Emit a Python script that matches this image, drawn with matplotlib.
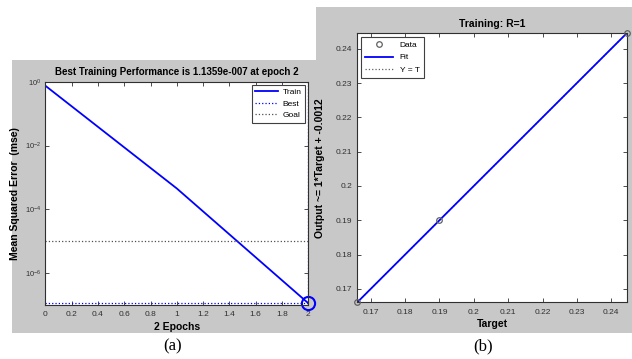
import numpy as np
import matplotlib
matplotlib.use('Agg')
import matplotlib.pyplot as plt
from matplotlib.patches import Rectangle

plt.rcParams['font.family'] = ['Liberation Sans', 'DejaVu Sans']
plt.rcParams['mathtext.default'] = 'regular'

# (a) training performance
epochs = [0, 1, 2]
train_mse = [0.75, 4.5e-4, 1.1359e-7]
best_epoch = 2
best_mse = 1.1359e-7
goal_mse = 1e-5
perf_yticks = [1e0, 1e-2, 1e-4, 1e-6]
perf_ytick_labels = ['$10^{0}$', '$10^{-2}$', '$10^{-4}$', '$10^{-6}$']
perf_xticks = [0, 0.2, 0.4, 0.6, 0.8, 1, 1.2, 1.4, 1.6, 1.8, 2]
perf_xtick_labels = ['0', '0.2', '0.4', '0.6', '0.8', '1', '1.2', '1.4', '1.6', '1.8', '2']

# (b) regression
targets = [0.1661, 0.19, 0.2445]
outputs = [0.1661, 0.19, 0.2445]
reg_ticks = [0.17, 0.18, 0.19, 0.2, 0.21, 0.22, 0.23, 0.24]
reg_tick_labels = ['0.17', '0.18', '0.19', '0.2', '0.21', '0.22', '0.23', '0.24']

W, H = 632, 359
GRAY = '#c8c8c8'
BLUE = '#0000ff'

def fx(px):
    return px / W

def fy(py):
    return 1 - py / H

fig = plt.figure(figsize=(6.32, 3.59), dpi=100)
fig.patch.set_facecolor('white')

# gray matlab figure panels
fig.patches.append(Rectangle((fx(12), fy(333)), fx(318 - 12), (333 - 60) / H,
                             transform=fig.transFigure, facecolor=GRAY, edgecolor='none', zorder=-3))
fig.patches.append(Rectangle((fx(316), fy(333)), fx(632 - 316), (333 - 7) / H,
                             transform=fig.transFigure, facecolor=GRAY, edgecolor='none', zorder=-2))

tick_kw = dict(direction='in', length=3, width=0.6, labelsize=6, colors='#303030')

# ---- (a)
ax1 = fig.add_axes([fx(45.3), fy(305), fx(308.3 - 45.3), (305 - 81.7) / H])
ax1.set_yscale('log')
ax1.plot(epochs, train_mse, color=BLUE, lw=1.3, label='Train')
ax1.axvline(best_epoch, color=BLUE, ls=':', lw=0.9, label='Best')
ax1.axhline(best_mse, color=BLUE, ls=':', lw=0.9)
ax1.axhline(goal_mse, color='#505050', ls=':', lw=0.9, label='Goal')
ax1.plot([best_epoch], [best_mse], 'o', ms=9.5, mfc='none', mec=BLUE, mew=1.5, clip_on=False)
ax1.set_xlim(0, 2)
ax1.set_ylim(1e-7, 1)
ax1.set_xticks(perf_xticks)
ax1.set_xticklabels(perf_xtick_labels)
ax1.set_yticks(perf_yticks)
ax1.set_yticklabels(perf_ytick_labels)
ax1.minorticks_off()
ax1.tick_params(top=True, right=True, **tick_kw)
ax1.tick_params(axis='x', pad=4.5)
ax1.tick_params(axis='y', labelsize=5.5, pad=3)
ax1.set_title('Best Training Performance is 1.1359e-007 at epoch 2', fontsize=7,
              fontweight='bold', pad=4.8)
ax1.set_xlabel('2 Epochs', fontsize=7.5, fontweight='bold', labelpad=2.5)
ax1.set_ylabel('Mean Squared Error  (mse)', fontsize=7.5, fontweight='bold')
ax1.yaxis.set_label_coords((20 - 45.3) / 263, 0.5)
leg1 = ax1.legend(loc='upper right', fontsize=6, fancybox=False, framealpha=1,
                  edgecolor='#404040', handlelength=2.8, handletextpad=0.5, borderpad=0.4,
                  labelspacing=0.45, borderaxespad=0.4)
leg1.get_frame().set_linewidth(0.8)
for s in ax1.spines.values():
    s.set_color('#303030')
    s.set_linewidth(0.8)

# ---- (b)
ax2 = fig.add_axes([fx(357.3), fy(302.3), fx(626.7 - 357.3), (302.3 - 33.3) / H])
slope, intercept = np.polyfit(targets, outputs, 1)
lo, hi = min(targets), max(targets)
xs = np.array([lo, hi])
ax2.plot(targets, outputs, 'o', ms=4, mfc='none', mec='#606060', mew=0.9, label='Data',
         zorder=3, clip_on=False)
ax2.plot(xs, slope * xs + intercept, color=BLUE, lw=1.3, label='Fit', zorder=2)
ax2.plot(xs, xs, color='#606060', ls=':', lw=0.9, label='Y = T', zorder=1)
ax2.set_xlim(lo, hi)
ax2.set_ylim(lo, hi)
ax2.set_xticks(reg_ticks)
ax2.set_xticklabels(reg_tick_labels)
ax2.set_yticks(reg_ticks)
ax2.set_yticklabels(reg_tick_labels)
ax2.tick_params(top=True, right=True, **tick_kw)
ax2.tick_params(axis='x', pad=4.5)
ax2.set_title('Training: R=1', fontsize=7.5, fontweight='bold', pad=4.5)
ax2.set_xlabel('Target', fontsize=7.5, fontweight='bold', labelpad=2.5)
ax2.set_ylabel('Output ~= 1*Target + -0.0012', fontsize=7.5, fontweight='bold')
ax2.yaxis.set_label_coords((325 - 357.3) / 269.4, 0.5)
leg2 = ax2.legend(loc='upper left', fontsize=6, fancybox=False, framealpha=1,
                  edgecolor='#404040', handlelength=3.4, borderpad=0.5, labelspacing=0.6,
                  borderaxespad=0.4)
leg2.get_frame().set_linewidth(0.8)
for s in ax2.spines.values():
    s.set_color('#303030')
    s.set_linewidth(0.8)

fig.text(fx(173), fy(346), '(a)', ha='center', va='center', fontsize=12,
         family=['Liberation Serif', 'DejaVu Serif'])
fig.text(fx(483), fy(346), '(b)', ha='center', va='center', fontsize=12,
         family=['Liberation Serif', 'DejaVu Serif'])

fig.savefig('out.png', dpi=100)
